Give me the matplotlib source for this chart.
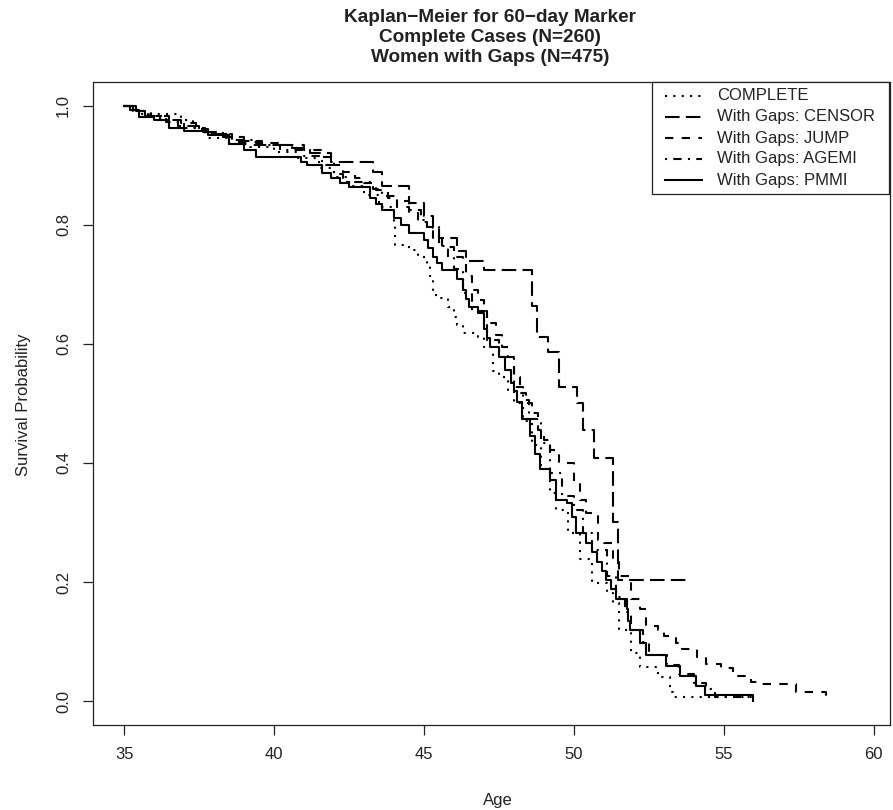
import matplotlib
matplotlib.use("Agg")
import matplotlib.pyplot as plt
from matplotlib.lines import Line2D
from matplotlib.patches import Rectangle

plt.rcParams['font.family'] = ['Liberation Sans', 'DejaVu Sans']

# Kaplan-Meier step curves (age, survival)
complete_age = [35.0, 35.3, 35.6, 36.9, 37.3, 37.8, 38.5, 39.2, 40.0, 40.8, 41.5, 42.0, 42.5,
                43.0, 43.5, 44.0, 44.05, 44.5, 44.8, 45.1, 45.2, 45.3, 45.4, 45.8, 46.0,
                46.1, 46.3, 46.8, 47.0, 47.3, 47.5, 47.8, 48.0, 48.3, 48.6, 48.9, 49.2,
                49.4, 49.8, 50.2, 50.6, 51.1, 51.3, 51.5, 51.9, 52.2, 52.8, 53.2, 53.3, 56.0]
complete_surv = [1.0, 0.992, 0.985, 0.975, 0.962, 0.945, 0.935, 0.93, 0.922, 0.912, 0.895, 0.88, 0.865,
                 0.85, 0.83, 0.80, 0.766, 0.758, 0.746, 0.730, 0.713, 0.691, 0.677, 0.662, 0.645,
                 0.632, 0.618, 0.612, 0.595, 0.555, 0.545, 0.523, 0.501, 0.47, 0.43, 0.39, 0.35,
                 0.321, 0.283, 0.238, 0.199, 0.182, 0.165, 0.120, 0.081, 0.058, 0.041, 0.015, 0.0077, 0.0077]

censor_age = [35.0, 35.3, 35.7, 36.2, 36.8, 37.5, 38.3, 39.0, 39.6, 40.6, 41.2, 41.9, 43.3, 43.6,
              44.5, 45.0, 45.3, 45.5, 46.1, 46.4, 47.0, 48.6, 48.77, 49.13, 49.5, 50.1, 50.3,
              50.67, 51.3, 51.47, 53.87]
censor_surv = [1.0, 0.99, 0.982, 0.975, 0.966, 0.956, 0.947, 0.94, 0.934, 0.928, 0.92, 0.905, 0.889, 0.865,
               0.836, 0.815, 0.795, 0.778, 0.755, 0.739, 0.724, 0.664, 0.612, 0.587, 0.528, 0.50, 0.455,
               0.409, 0.30, 0.204, 0.204]

jump_age = [35.0, 35.4, 35.9, 36.5, 36.9, 37.4, 37.8, 38.6, 39.4, 40.3, 41.0, 41.6, 42.0, 42.3,
            42.7, 43.0, 43.4, 43.8, 44.1, 44.5, 44.8, 45.1, 45.3, 45.6, 46.0, 46.3, 46.4, 46.6,
            46.8, 47.0, 47.1, 47.4, 47.6, 47.8, 48.0, 48.2, 48.4, 48.6, 48.8, 49.0, 49.2, 49.5,
            50.0, 50.2, 50.4, 50.8, 51.0, 51.3, 51.5, 51.9, 52.2, 52.4, 52.8, 53.0, 53.4, 53.6,
            54.1, 54.4, 54.9, 55.3, 55.9, 56.1, 57.4, 58.43]
jump_surv = [1.0, 0.99, 0.982, 0.975, 0.97, 0.96, 0.953, 0.939, 0.937, 0.934, 0.926, 0.914, 0.900, 0.889,
             0.878, 0.870, 0.858, 0.845, 0.830, 0.820, 0.805, 0.794, 0.778, 0.763, 0.746, 0.736, 0.713, 0.691,
             0.674, 0.655, 0.635, 0.615, 0.595, 0.578, 0.545, 0.518, 0.501, 0.484, 0.456, 0.439, 0.422, 0.400,
             0.367, 0.338, 0.316, 0.271, 0.266, 0.233, 0.210, 0.171, 0.154, 0.126, 0.120, 0.109, 0.098, 0.087,
             0.075, 0.062, 0.056, 0.042, 0.033, 0.028, 0.015, 0.003]

agemi_age = [35.0, 35.4, 35.8, 36.4, 37.0, 37.7, 38.5, 39.3, 40.2, 41.0, 41.6, 42.0, 42.3, 43.3,
             43.6, 44.1, 44.5, 44.9, 45.1, 45.5, 45.8, 46.0, 46.3, 46.6, 47.1, 47.5, 48.0, 48.3,
             48.5, 48.9, 49.2, 49.6, 50.0, 50.3, 50.6, 51.1, 51.4, 51.7, 51.9, 52.3, 52.5, 53.1,
             53.5, 54.0, 54.4, 54.7, 56.0]
agemi_surv = [1.0, 0.99, 0.982, 0.972, 0.962, 0.952, 0.942, 0.933, 0.926, 0.915, 0.90, 0.885, 0.872, 0.86,
              0.848, 0.84, 0.825, 0.808, 0.796, 0.765, 0.745, 0.725, 0.685, 0.655, 0.607, 0.578, 0.528, 0.506,
              0.473, 0.434, 0.383, 0.344, 0.321, 0.283, 0.254, 0.210, 0.175, 0.150, 0.12, 0.10, 0.078, 0.06,
              0.045, 0.03, 0.02, 0.007, 0.007]

pmmi_age = [35.0, 35.2, 35.5, 36.0, 36.5, 37.0, 37.8, 38.5, 39.0, 39.4, 40.9, 41.1, 41.6, 41.9,
            42.2, 42.5, 43.2, 43.4, 43.6, 44.0, 44.25, 44.5, 45.0, 45.15, 45.3, 45.45, 45.6, 46.1,
            46.3, 46.4, 46.5, 46.8, 47.0, 47.1, 47.2, 47.5, 47.7, 47.9, 48.0, 48.1, 48.26, 48.53,
            48.7, 48.87, 49.2, 49.42, 49.76, 49.95, 50.09, 50.42, 50.6, 50.76, 50.95, 51.09, 51.25,
            51.42, 51.76, 51.82, 51.87, 52.2, 52.42, 53.09, 53.53, 54.09, 54.37, 55.97]
pmmi_surv = [1.0, 0.993, 0.981, 0.975, 0.962, 0.958, 0.951, 0.935, 0.925, 0.913, 0.905, 0.900, 0.887, 0.878,
             0.870, 0.863, 0.845, 0.835, 0.825, 0.811, 0.80, 0.786, 0.774, 0.76, 0.746, 0.735, 0.724, 0.709,
             0.691, 0.676, 0.662, 0.652, 0.625, 0.61, 0.595, 0.578, 0.556, 0.534, 0.52, 0.503, 0.473, 0.445,
             0.415, 0.389, 0.372, 0.338, 0.333, 0.31, 0.283, 0.266, 0.25, 0.233, 0.218, 0.204, 0.188,
             0.171, 0.154, 0.135, 0.120, 0.098, 0.078, 0.059, 0.042, 0.025, 0.011, 0.0]

labels = ["COMPLETE", "With Gaps: CENSOR", "With Gaps: JUMP", "With Gaps: AGEMI", "With Gaps: PMMI"]
x_ticks = [35, 40, 45, 50, 55, 60]
y_ticks = [0.0, 0.2, 0.4, 0.6, 0.8, 1.0]

W, H = 893, 810
fx = lambda px: px / W
fy = lambda py: 1 - py / H

fig = plt.figure(figsize=(W / 100, H / 100), dpi=100)
ax = fig.add_axes([fx(93.3), fy(725), (890 - 93.3) / W, (725 - 81.7) / H])

styles = [(0, (1, 3)), (0, (7, 3)), (0, (4, 4)), (0, (1, 3, 4, 3)), '-']
curves = [(complete_age, complete_surv), (censor_age, censor_surv), (jump_age, jump_surv),
          (agemi_age, agemi_surv), (pmmi_age, pmmi_surv)]
for (a, s), ls in zip(curves, styles):
    ax.step(a, s, where='post', color='black', lw=1.5, linestyle=ls)

ax.set_xlim(33.97, 60.55)
ax.set_ylim(-0.04, 1.04)
ax.set_xticks(x_ticks)
ax.set_xticklabels([str(t) for t in x_ticks])
ax.set_yticks(y_ticks)
ax.set_yticklabels([f"{t:.1f}" for t in y_ticks], rotation=90, va='center')
ax.tick_params(length=7, width=0.9, labelsize=12, pad=9, color='#222222', labelcolor='#222222')
for sp in ax.spines.values():
    sp.set_linewidth(0.9)
    sp.set_color('#222222')

# legend box drawn by hand (R style: wider side padding)
fig.add_artist(Rectangle((fx(652), fy(194)), (889 - 652) / W, (194 - 81.7) / H,
                         transform=fig.transFigure, facecolor='white', edgecolor='#222222',
                         lw=0.9, zorder=5))
for i, (lab, ls) in enumerate(zip(labels, styles)):
    yy = fy(96 + 21 * i)
    fig.add_artist(Line2D([fx(665), fx(702)], [yy, yy], transform=fig.transFigure,
                          color='black', lw=1.5, linestyle=ls, zorder=6))
    fig.text(fx(717), yy, lab, ha='left', va='center', fontsize=12, color='#222222', zorder=6)

title_lines = ["Kaplan\u2212Meier for 60\u2212day Marker", "Complete Cases (N=260)",
               "Women with Gaps (N=475)"]
for i, line in enumerate(title_lines):
    fig.text(fx(490), fy(18 + 19.5 * i), line, ha='center', va='center',
             fontsize=13.7, fontweight='bold', color='#222222')

fig.text(fx(498), fy(800), "Age", ha='center', va='center', fontsize=12, color='#222222')
fig.text(fx(24), fy(405), "Survival Probability", ha='center', va='center',
         rotation=90, fontsize=12, color='#222222')

fig.savefig("out.png", dpi=100)
